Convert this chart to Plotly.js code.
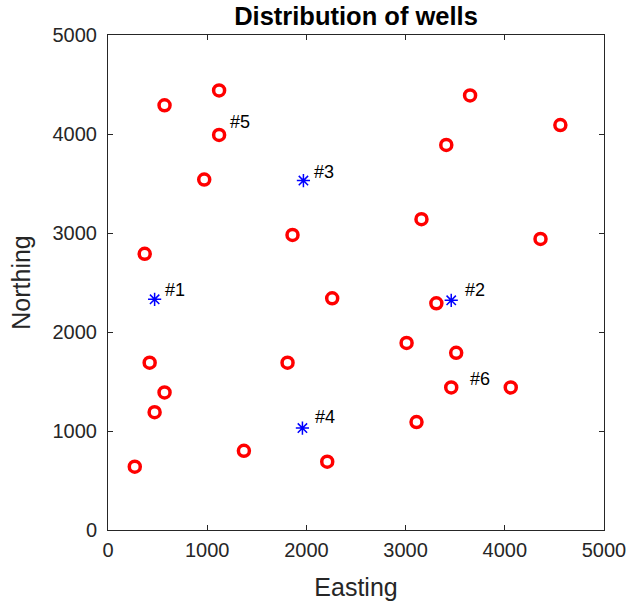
<!DOCTYPE html>
<html>
<head>
<meta charset="utf-8">
<script src="https://cdn.plot.ly/plotly-3.0.1.min.js"></script>
<style>html,body{margin:0;padding:0;background:#fff;}#chart{width:629px;height:607px;}</style>
</head>
<body>
<div id="chart"></div>
<script>
// Wells (red open circles)
const wellEasting  = [1120, 570, 1120, 970, 1860, 370, 2260, 420, 1810, 570, 470, 1370, 270, 2210,
                      3650, 4560, 3410, 3160, 4360, 3310, 3010, 3510, 3460, 4060, 3110];
const wellNorthing = [4440, 4290, 3990, 3540, 2980, 2790, 2340, 1690, 1690, 1390, 1190, 800, 640, 690,
                      4390, 4090, 3890, 3140, 2940, 2290, 1890, 1790, 1440, 1440, 1090];
// Special wells (blue asterisks)
const starEasting  = [470, 3460, 1970, 1960];
const starNorthing = [2330, 2320, 3530, 1030];
// Labels
const labelText     = ['#1', '#2', '#3', '#4', '#5', '#6'];
const labelEasting  = [550, 3581, 2056, 2066, 1207, 3631];
const labelNorthing = [2425, 2425, 3619, 1140, 4125, 1524];
const tickVals = [0, 1000, 2000, 3000, 4000, 5000];

const font = 'Liberation Sans, Arial, Helvetica, sans-serif';
const axisCommon = {
  range: [0, 5000], tickvals: tickVals, ticktext: tickVals.map(String),
  ticks: 'inside', ticklen: 5, tickwidth: 1, tickcolor: '#262626',
  showline: true, linecolor: '#262626', linewidth: 1, mirror: 'ticks',
  showgrid: false, zeroline: false, fixedrange: true,
  tickfont: {family: font, size: 20, color: '#262626'}
};

const traces = [
  {x: wellEasting, y: wellNorthing, type: 'scatter', mode: 'markers',
   marker: {symbol: 'circle-open', size: 11, color: '#ff0000', line: {width: 3.5, color: '#ff0000'}},
   hoverinfo: 'none'},
  {x: starEasting, y: starNorthing, type: 'scatter', mode: 'markers',
   marker: {symbol: 'asterisk-open', size: 11, color: '#0000ff', line: {width: 1.5, color: '#0000ff'}},
   hoverinfo: 'none'}
];

const annotations = labelText.map((t, i) => ({
  x: labelEasting[i], y: labelNorthing[i], xref: 'x', yref: 'y', text: t,
  showarrow: false, xanchor: 'left', yanchor: 'middle',
  font: {family: font, size: 18, color: '#000000'}
}));

const layout = {
  width: 629, height: 607,
  margin: {l: 108, r: 25, t: 35, b: 77, pad: 0},
  paper_bgcolor: '#ffffff', plot_bgcolor: '#ffffff',
  showlegend: false,
  title: {text: '<b>Distribution of wells</b>', x: 0.566, xanchor: 'center', y: 0.973, yanchor: 'middle',
          font: {family: font, size: 25.5, color: '#000000'}},
  xaxis: Object.assign({}, axisCommon, {
    ticklabelstandoff: 2,
    title: {text: 'Easting', font: {family: font, size: 25, color: '#262626'}, standoff: 18}
  }),
  yaxis: Object.assign({}, axisCommon, {
    ticklabelstandoff: 6,
    title: {text: 'Northing', font: {family: font, size: 25, color: '#262626'}, standoff: 14}
  }),
  annotations: annotations
};

Plotly.newPlot('chart', traces, layout, {staticPlot: true, displayModeBar: false});
</script>
</body>
</html>
